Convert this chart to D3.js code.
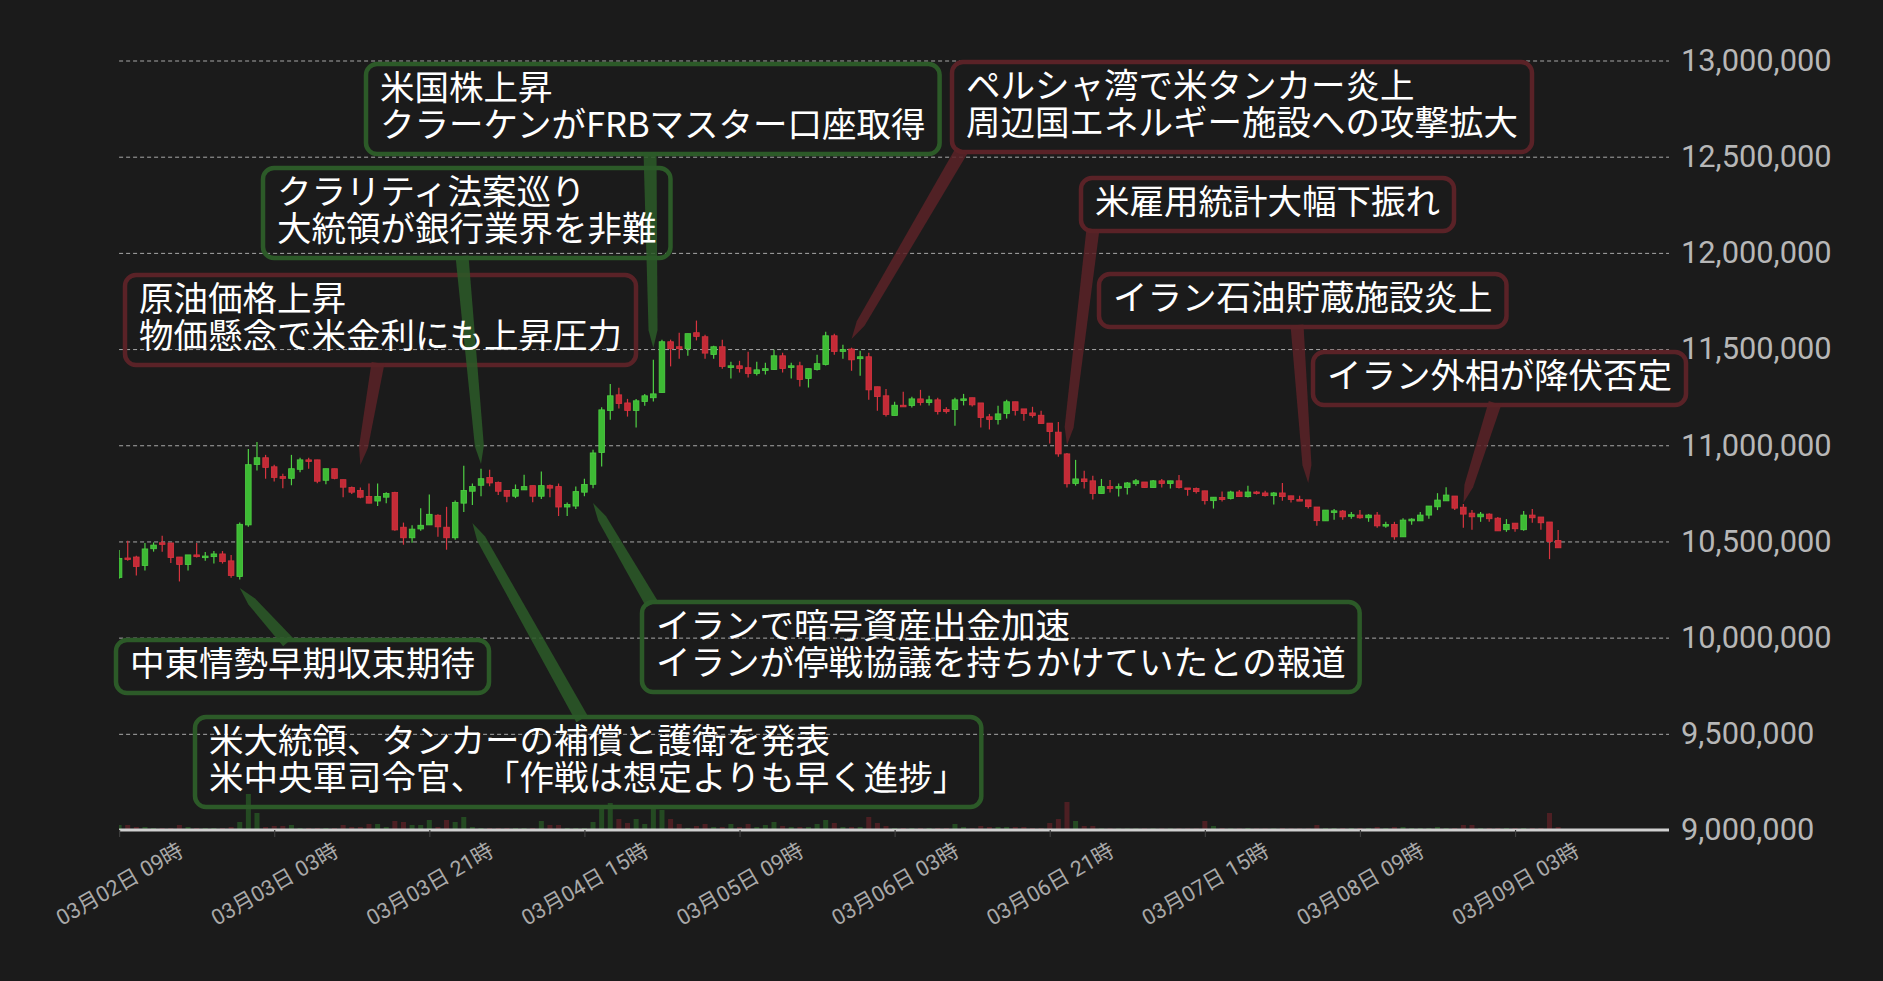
<!DOCTYPE html>
<html><head><meta charset="utf-8">
<script src="https://cdn.jsdelivr.net/npm/d3@7"></script>
<style>
html,body{margin:0;padding:0;background:#1b1b1b;overflow:hidden;}
svg{display:block;}
.ann{text-spacing-trim:space-all;}
</style></head><body>
<svg id="chart" width="1883" height="981"></svg>
<script>
// ---------------- DATA (prices in thousands of JPY) ----------------
const startTime = "2026-03-02 09:00";   // first hourly candle
const open_k = [10313,10414,10419,10375,10462,10493,10492,10419,10380,10430,
10418,10421,10435,10399,10318,10586,10900,10935,10888,10837,
10828,10875,10924,10924,10818,10878,10821,10780,10765,10734,
10710,10730,10754,10574,10519,10565,10586,10636,10574,10519,
10699,10761,10792,10832,10806,10765,10735,10768,10790,10735,
10790,10785,10679,10684,10756,10797,10962,11181,11262,11220,
11181,11227,11247,11274,11538,11512,11502,11585,11564,11472,
11512,11410,11413,11403,11373,11389,11394,11465,11405,11413,
11347,11394,11420,11569,11488,11500,11450,11460,11304,11257,
11155,11208,11207,11241,11222,11236,11186,11186,11233,11247,
11220,11148,11134,11165,11226,11189,11168,11156,11115,11068,
10955,10801,10825,10815,10749,10785,10780,10780,10801,10809,
10780,10815,10801,10815,10778,10775,10763,10712,10728,10723,
10757,10733,10757,10752,10738,10752,10737,10718,10716,10679,
10607,10656,10658,10633,10637,10623,10637,10581,10588,10524,
10607,10607,10637,10680,10711,10736,10678,10647,10628,10642,
10621,10561,10595,10561,10637,10627,10601,10505];
const high_k = [10455,10504,10426,10492,10495,10529,10492,10419,10430,10492,
10445,10450,10450,10430,10598,10981,11017,10950,10899,10852,
10950,10935,10935,10924,10878,10878,10821,10785,10780,10801,
10801,10756,10758,10598,10584,10672,10744,10641,10680,10713,
10893,10801,10878,10873,10811,10765,10796,10847,10790,10863,
10796,10801,10703,10785,10826,10976,11198,11319,11299,11241,
11241,11267,11444,11549,11549,11585,11580,11648,11575,11517,
11549,11434,11439,11486,11434,11429,11497,11481,11429,11434,
11398,11470,11590,11580,11523,11507,11491,11481,11304,11293,
11226,11278,11252,11288,11257,11247,11198,11247,11267,11247,
11220,11163,11205,11236,11226,11189,11200,11179,11115,11121,
10960,10924,10867,10841,10825,10820,10801,10809,10825,10809,
10820,10825,10815,10846,10778,10780,10763,10730,10759,10763,
10768,10789,10763,10763,10757,10804,10737,10737,10716,10679,
10663,10668,10663,10653,10663,10642,10653,10602,10602,10621,
10621,10653,10684,10751,10782,10736,10694,10663,10653,10647,
10627,10616,10595,10658,10668,10627,10601,10559];
const low_k = [10306,10400,10323,10349,10447,10447,10388,10292,10349,10416,
10400,10385,10385,10311,10302,10576,10869,10826,10811,10777,
10792,10859,10878,10802,10797,10823,10730,10746,10725,10699,
10684,10699,10555,10483,10493,10555,10586,10524,10457,10509,
10653,10689,10735,10787,10741,10704,10725,10768,10704,10720,
10730,10632,10632,10668,10735,10777,10889,11132,11191,11149,
11092,11205,11227,11274,11410,11450,11465,11545,11450,11450,
11398,11347,11378,11352,11363,11368,11394,11378,11347,11306,
11300,11389,11415,11470,11450,11387,11361,11236,11179,11149,
11155,11201,11196,11207,11207,11160,11165,11102,11207,11201,
11092,11082,11108,11139,11155,11128,11144,11113,11009,10940,
10780,10790,10775,10718,10749,10754,10733,10744,10790,10780,
10780,10780,10775,10775,10738,10749,10692,10671,10707,10718,
10733,10728,10744,10733,10692,10712,10702,10712,10671,10582,
10607,10613,10613,10618,10618,10602,10571,10571,10509,10524,
10587,10607,10618,10663,10711,10663,10571,10561,10602,10602,
10555,10550,10550,10555,10597,10561,10408,10467];
const close_k = [10412,10411,10370,10461,10481,10488,10416,10380,10430,10421,
10424,10435,10395,10323,10589,10899,10935,10885,10833,10828,
10878,10924,10916,10813,10878,10828,10782,10756,10730,10699,
10734,10749,10560,10519,10564,10584,10641,10576,10519,10703,
10765,10785,10826,10804,10761,10735,10770,10785,10735,10790,
10777,10679,10692,10759,10796,10960,11184,11257,11217,11181,
11231,11257,11267,11538,11502,11502,11580,11566,11479,11512,
11410,11413,11399,11373,11392,11398,11465,11399,11413,11342,
11398,11424,11569,11488,11497,11444,11460,11288,11253,11160,
11208,11201,11241,11222,11236,11175,11175,11236,11241,11210,
11144,11134,11163,11226,11181,11165,11155,11113,11071,10955,
10800,10825,10811,10749,10785,10775,10785,10804,10815,10780,
10815,10801,10815,10780,10775,10759,10712,10730,10718,10757,
10733,10757,10749,10738,10752,10733,10718,10712,10681,10608,
10663,10659,10628,10639,10623,10637,10581,10588,10524,10611,
10616,10637,10684,10715,10741,10673,10642,10628,10642,10618,
10555,10588,10566,10637,10623,10597,10500,10467];
const volume = [25,25,15,15,10,10,10,25,15,10, 10,10,10,15,40,180,85,15,20,20,
25,10,10,10,10,10,25,15,15,30, 30,15,45,40,25,25,50,15,50,40,
65,15,10,10,10,10,10,10,10,45, 25,25,10,10,10,40,110,135,55,35,
55,30,105,100,55,30,10,20,30,15, 15,30,15,30,15,25,40,20,15,15,
15,30,50,35,15,15,15,65,35,20, 10,10,10,10,10,10,10,30,15,10,
20,15,15,15,15,15,10,10,35,55, 140,45,20,20,8,8,8,8,8,8,
8,8,8,8,8,8,45,20,10,8, 8,10,8,8,8,10,8,8,8,25,
10,10,10,10,10,10,15,10,15,15, 10,10,10,15,10,10,25,25,10,10,
10,10,10,10,10,10,85,15];

const xTickLabels = ["2026-03-02 09:00","2026-03-03 03:00","2026-03-03 21:00","2026-03-04 15:00",
"2026-03-05 09:00","2026-03-06 03:00","2026-03-06 21:00","2026-03-07 15:00","2026-03-08 09:00","2026-03-09 03:00"];
const yTickValues = [9000000,9500000,10000000,10500000,11000000,11500000,12000000,12500000,13000000];

// annotations: text lines, target candle index, pointed price (k JPY), tone
const annTexts = [
 ["原油価格上昇","物価懸念で米金利にも上昇圧力"],
 ["クラリティ法案巡り","大統領が銀行業界を非難"],
 ["米国株上昇","クラーケンがFRBマスター口座取得"],
 ["ペルシャ湾で米タンカー炎上","周辺国エネルギー施設への攻撃拡大"],
 ["米雇用統計大幅下振れ"],
 ["イラン石油貯蔵施設炎上"],
 ["イラン外相が降伏否定"],
 ["中東情勢早期収束期待"],
 ["米大統領、タンカーの補償と護衛を発表","米中央軍司令官、「作戦は想定よりも早く進捗」"],
 ["イランで暗号資産出金加速","イランが停戦協議を持ちかけていたとの報道"]
];
const annIndex = [28,42,62,85,110,138,156,14,41,55];
const annPrice_k = [10897,10903,11505,11552,11001,10804,10700,10258,10596,10700];
const annTone = ["bear","bull","bull","bear","bear","bear","bear","bull","bull","bull"];

// ---------------- LAYOUT ----------------
const annBoxXY = [[125,275],[263,168],[366,64],[952,62],[1081,178],[1099,274],[1313,352],[116,640],[195,717],[642,602]];
const annBaseX = [378,462,650,962,1093,1297,1495,288,582,652];

const plotL = 119.1, plotR = 1669, axisY = 830, pxPerHour = 8.617;
const svg = d3.select("#chart");
const parse = d3.timeParse("%Y-%m-%d %H:%M");
const t0 = parse(startTime);
const candles = open_k.map((o,i)=>({t:d3.timeHour.offset(t0,i), o:o*1000, h:high_k[i]*1000, l:low_k[i]*1000, c:close_k[i]*1000, v:volume[i]}));

const x = d3.scaleTime().domain([t0, d3.timeHour.offset(t0,180)]).range([plotL, plotL+180*pxPerHour]);
const y = d3.scaleLinear().domain([9000000,13000000]).range([axisY,60.5]);
const yv = d3.scaleLinear().domain([0,200]).range([axisY,axisY-40]);

const colUp = "#3dba34", colUpEdge="#4fd044", colDn = "#c42b37", colDnEdge="#d8343f";

svg.append("rect").attr("width",1883).attr("height",981).attr("fill","#1b1b1b");

svg.append("defs").append("clipPath").attr("id","plotclip")
  .append("rect").attr("x",plotL).attr("y",0).attr("width",plotR-plotL).attr("height",axisY);

// gridlines
const grid = svg.append("g").attr("transform",`translate(${plotL},0)`)
  .call(d3.axisRight(y).tickValues(yTickValues.filter(v=>v>9000000)).tickSize(plotR-plotL).tickFormat(""));
grid.select(".domain").remove();
grid.selectAll("line").attr("stroke","#a8a8a8").attr("stroke-width",1).attr("stroke-dasharray","4,3");

const plot = svg.append("g").attr("clip-path","url(#plotclip)");

// volume
plot.append("g").selectAll("rect").data(candles).join("rect")
  .attr("x",d=>x(d.t)-2.5).attr("width",5)
  .attr("y",d=>yv(d.v)).attr("height",d=>axisY-yv(d.v))
  .attr("fill",d=>d.c>=d.o?colUp:colDn).attr("opacity",0.3);

// candles
const cg = plot.append("g").selectAll("g").data(candles).join("g");
cg.append("line")
  .attr("x1",d=>x(d.t)).attr("x2",d=>x(d.t))
  .attr("y1",d=>y(d.h)).attr("y2",d=>y(d.l))
  .attr("stroke",d=>d.c>=d.o?colUpEdge:colDnEdge).attr("stroke-width",1.2);
cg.append("rect")
  .attr("x",d=>x(d.t)-2.8).attr("width",5.6)
  .attr("y",d=>y(Math.max(d.o,d.c)))
  .attr("height",d=>Math.max(1.6,Math.abs(y(d.o)-y(d.c))))
  .attr("fill",d=>d.c>=d.o?colUp:colDn)
  .attr("stroke",d=>d.c>=d.o?colUpEdge:colDnEdge).attr("stroke-width",0.8);

// x axis
const fmt = d3.timeFormat("%m月%d日 %H時");
const xa = svg.append("g").attr("transform",`translate(0,${axisY})`)
  .call(d3.axisBottom(x).tickValues(xTickLabels.map(parse)).tickFormat(fmt).tickSize(7).tickSizeOuter(0));
xa.select(".domain").attr("stroke","#d0d0d0").attr("stroke-width",3)
  .attr("d",`M${plotL},0H${plotR}`);
xa.selectAll(".tick line").attr("stroke","#3c3c3c").attr("stroke-width",1.2);
xa.selectAll(".tick text")
  .attr("y",0).attr("dy",null).attr("text-anchor","middle").attr("dominant-baseline","central")
  .attr("transform","translate(0,54) rotate(-30)")
  .attr("fill","#a9a9a9").attr("font-size",21.5)
  .attr("font-family","Roboto, 'Noto Sans CJK JP', sans-serif");
xa.raise();

// y axis (right)
const ya = svg.append("g").attr("transform",`translate(${plotR},0)`)
  .call(d3.axisRight(y).tickValues(yTickValues).tickSize(0).tickPadding(12).tickFormat(d3.format(",")));
ya.select(".domain").remove();
ya.selectAll("text").attr("fill","#b7b7b7").attr("font-size",30.8)
  .attr("font-family","Roboto, 'Noto Sans', sans-serif");

// annotations
const tone = {bull:{stroke:"#2c5a28", ptr:"#2c5a28"}, bear:{stroke:"#5a2227", ptr:"#5a2227"}};
const annG = svg.append("g");
const boxLayer = annG.append("g"), ptrLayer = annG.append("g"), txtLayer = annG.append("g");
annTexts.forEach((lines,k)=>{
  const [bx,by] = annBoxXY[k];
  const t = txtLayer.append("text").attr("class","ann")
    .attr("x",bx+14).attr("y",by+36)
    .attr("fill","#ffffff").attr("font-size",34.5)
    .attr("font-family","'Noto Sans CJK JP', 'Noto Sans', sans-serif");
  let maxW = 0;
  lines.forEach((ln,j)=>{
    const ts = t.append("tspan").attr("x",bx+14).attr("dy", j===0?0:37).text(ln);
    maxW = Math.max(maxW, ts.node().getComputedTextLength());
  });
  const bw = maxW + 28, bh = 16 + 37*lines.length;
  const c = tone[annTone[k]];
  boxLayer.append("rect").attr("x",bx).attr("y",by).attr("width",bw).attr("height",bh)
    .attr("rx",11).attr("fill","none").attr("stroke",c.stroke).attr("stroke-width",4.5);
  // pointer
  const tx = x(candles[annIndex[k]].t), ty = y(annPrice_k[k]*1000);
  const down = ty > by + bh;
  const baseY = down ? by + bh - 2 : by + 2;
  const baseX = annBaseX[k];
  const dx = tx-baseX, dy = ty-baseY, L = Math.hypot(dx,dy);
  const ux = dx/L, uy = dy/L, nx = -uy, ny = ux;
  const w0 = 6.5, w1 = 4.5, tl = 18;
  const mx = tx-ux*tl, my = ty-uy*tl;
  const pts = [[baseX+nx*w0, baseY+ny*w0],[mx+nx*w1,my+ny*w1],[tx,ty],[mx-nx*w1,my-ny*w1],[baseX-nx*w0, baseY-ny*w0]];
  ptrLayer.append("path").attr("d","M"+pts.map(p=>p.join(",")).join("L")+"Z")
    .attr("fill",c.ptr).attr("opacity",0.85);
});
</script>
</body></html>
